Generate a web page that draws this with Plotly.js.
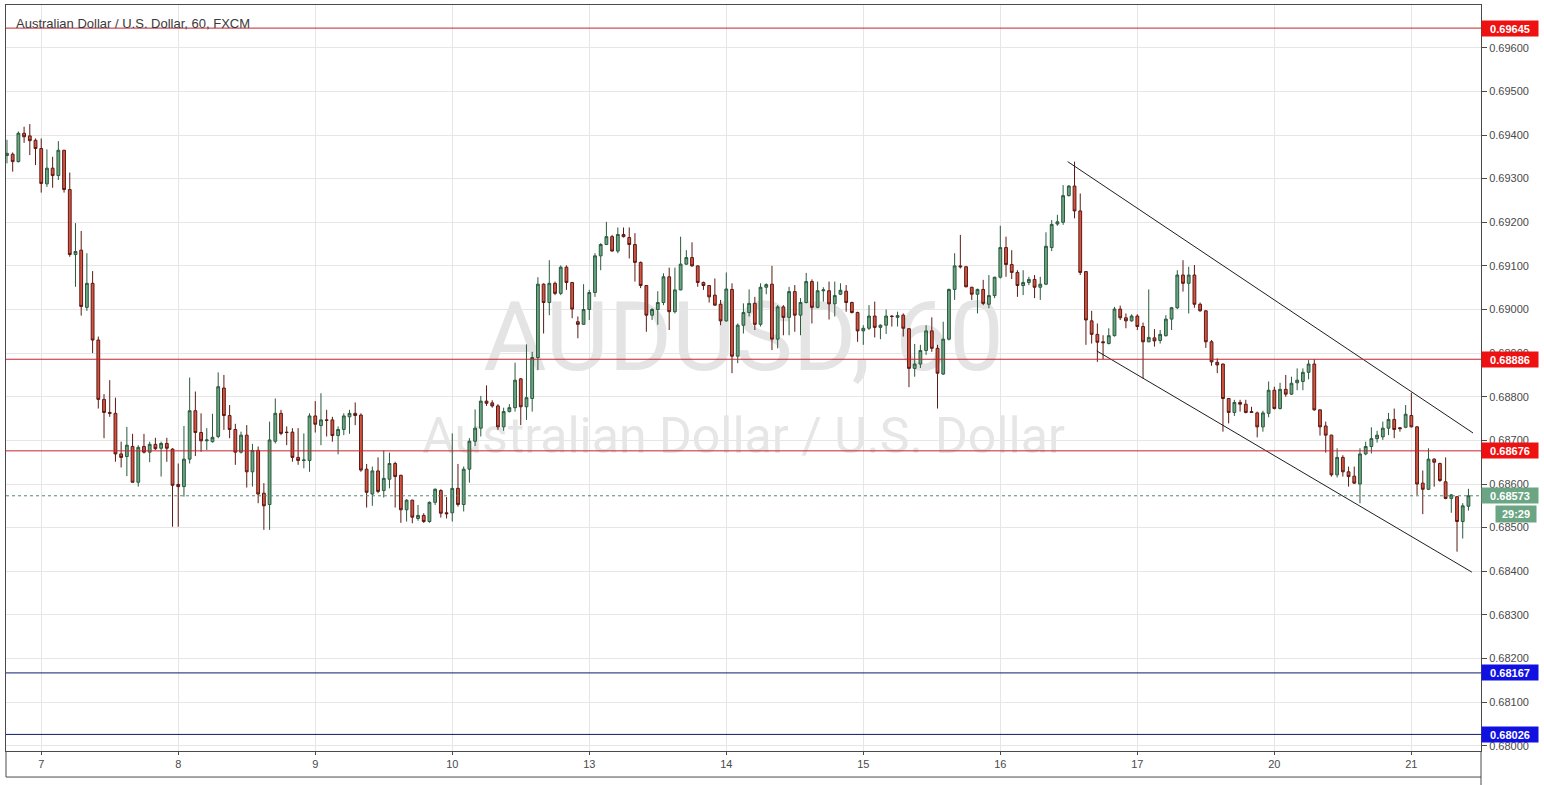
<!DOCTYPE html>
<html><head><meta charset="utf-8">
<script src="https://cdn.plot.ly/plotly-3.0.1.min.js"></script>
<style>html,body{margin:0;padding:0;background:#fff}#chart{width:1544px;height:785px}</style>
</head><body><div id="chart"></div>
<script>
// ---- data (AUD/USD hourly candles, 6 Jan 18:00 -> 21 Jan 10:00) ----
const dayTickIdx = [6,30,54,78,102,126,150,174,198,222,246];
const dayLabels = ['7','8','9','10','13','14','15','16','17','20','21'];

const open = [
0.69353,0.69356,0.69339,0.69404,0.69398,0.69388,0.69369,0.69288,0.69324,0.69307,
0.69365,0.69275,0.69126,0.69136,0.69005,0.69060,0.68930,0.68794,0.68764,0.68762,
0.68669,0.68663,0.68686,0.68604,0.68686,0.68673,0.68691,0.68682,0.68693,0.68680,
0.68599,0.68594,0.68657,0.68768,0.68718,0.68699,0.68697,0.68709,0.68820,0.68757,
0.68725,0.68673,0.68712,0.68628,0.68677,0.68579,0.68553,0.68698,0.68762,0.68719,
0.68719,0.68661,0.68654,0.68654,0.68756,0.68734,0.68747,0.68747,0.68711,0.68725,
0.68754,0.68762,0.68758,0.68634,0.68577,0.68630,0.68585,0.68611,0.68647,0.68620,
0.68541,0.68563,0.68521,0.68528,0.68514,0.68558,0.68585,0.68534,0.68534,0.68590,
0.68553,0.68634,0.68698,0.68728,0.68790,0.68786,0.68779,0.68731,0.68766,0.68775,
0.68841,0.68777,0.68796,0.68890,0.69058,0.69016,0.69060,0.69037,0.69097,0.69062,
0.68972,0.68966,0.69000,0.69039,0.69123,0.69149,0.69167,0.69134,0.69172,0.69165,
0.69149,0.69108,0.69055,0.68987,0.69000,0.69016,0.69075,0.68995,0.69045,0.69104,
0.69119,0.69100,0.69062,0.69055,0.69033,0.69012,0.68974,0.69046,0.68893,0.68964,
0.68993,0.69014,0.68966,0.69051,0.69058,0.68932,0.69006,0.68982,0.69041,0.68987,
0.69016,0.69064,0.69005,0.69043,0.69043,0.69013,0.69035,0.69042,0.69016,0.68993,
0.68951,0.68957,0.68985,0.68959,0.68964,0.68985,0.68982,0.68987,0.68956,0.68865,
0.68875,0.68906,0.68951,0.68911,0.68852,0.68932,0.69046,0.69100,0.69098,0.69051,
0.69035,0.69046,0.69012,0.69032,0.69074,0.69142,0.69103,0.69085,0.69055,0.69062,
0.69069,0.69051,0.69058,0.69142,0.69196,0.69200,0.69261,0.69283,0.69226,0.69087,
0.68974,0.68943,0.68926,0.68922,0.68940,0.69001,0.68981,0.68974,0.68985,0.68961,
0.68926,0.68935,0.68929,0.68940,0.68978,0.69004,0.69079,0.69060,0.69079,0.69012,
0.68997,0.68926,0.68879,0.68875,0.68796,0.68764,0.68787,0.68783,0.68766,0.68763,
0.68731,0.68762,0.68815,0.68773,0.68817,0.68806,0.68832,0.68835,0.68856,0.68875,
0.68770,0.68733,0.68712,0.68621,0.68661,0.68628,0.68618,0.68600,0.68669,0.68686,
0.68704,0.68708,0.68728,0.68748,0.68729,0.68730,0.68757,0.68731,0.68602,0.68588,
0.68657,0.68647,0.68605,0.68567,0.68571,0.68514,0.68549];

const high = [
0.69389,0.69360,0.69408,0.69419,0.69425,0.69392,0.69392,0.69367,0.69350,0.69386,
0.69366,0.69314,0.69198,0.69180,0.69129,0.69088,0.68938,0.68806,0.68838,0.68798,
0.68697,0.68731,0.68715,0.68689,0.68715,0.68697,0.68706,0.68697,0.68706,0.68682,
0.68647,0.68733,0.68844,0.68812,0.68762,0.68728,0.68761,0.68856,0.68850,0.68781,
0.68738,0.68720,0.68735,0.68692,0.68686,0.68602,0.68743,0.68796,0.68770,0.68732,
0.68728,0.68728,0.68716,0.68762,0.68790,0.68808,0.68770,0.68754,0.68732,0.68762,
0.68770,0.68787,0.68762,0.68646,0.68640,0.68661,0.68677,0.68672,0.68651,0.68621,
0.68565,0.68564,0.68552,0.68533,0.68560,0.68590,0.68588,0.68570,0.68716,0.68646,
0.68640,0.68705,0.68771,0.68802,0.68826,0.68792,0.68783,0.68775,0.68783,0.68878,
0.68843,0.68920,0.68903,0.69074,0.69060,0.69113,0.69064,0.69101,0.69101,0.69063,
0.68984,0.69058,0.69045,0.69129,0.69152,0.69201,0.69171,0.69188,0.69188,0.69188,
0.69175,0.69110,0.69056,0.69003,0.69042,0.69083,0.69096,0.69096,0.69167,0.69136,
0.69154,0.69101,0.69064,0.69056,0.69071,0.69022,0.69085,0.69060,0.68968,0.69014,
0.69046,0.69029,0.69060,0.69060,0.69100,0.69010,0.69010,0.69052,0.69056,0.69026,
0.69084,0.69069,0.69064,0.69051,0.69064,0.69064,0.69060,0.69056,0.69018,0.68995,
0.68964,0.69010,0.69018,0.68966,0.69000,0.68987,0.68995,0.68991,0.68957,0.68921,
0.68919,0.68964,0.68982,0.68919,0.68972,0.69048,0.69129,0.69171,0.69100,0.69052,
0.69048,0.69068,0.69079,0.69075,0.69192,0.69167,0.69136,0.69090,0.69090,0.69075,
0.69079,0.69075,0.69177,0.69205,0.69217,0.69285,0.69285,0.69339,0.69266,0.69087,
0.68997,0.68968,0.68941,0.68957,0.69006,0.69009,0.68991,0.68989,0.68989,0.68970,
0.69046,0.68955,0.68953,0.68987,0.69006,0.69090,0.69113,0.69098,0.69102,0.69016,
0.68999,0.68930,0.68888,0.68876,0.68797,0.68793,0.68793,0.68793,0.68777,0.68766,
0.68768,0.68835,0.68823,0.68832,0.68850,0.68846,0.68865,0.68865,0.68884,0.68886,
0.68771,0.68743,0.68713,0.68682,0.68666,0.68640,0.68640,0.68682,0.68697,0.68730,
0.68722,0.68743,0.68763,0.68773,0.68730,0.68781,0.68809,0.68733,0.68631,0.68682,
0.68659,0.68649,0.68661,0.68577,0.68571,0.68556,0.68589];

const low = [
0.69335,0.69316,0.69337,0.69382,0.69354,0.69331,0.69268,0.69281,0.69279,0.69297,
0.69268,0.69121,0.69052,0.68986,0.68997,0.68900,0.68773,0.68705,0.68754,0.68651,
0.68638,0.68618,0.68604,0.68594,0.68670,0.68650,0.68678,0.68617,0.68651,0.68502,
0.68502,0.68571,0.68647,0.68664,0.68674,0.68678,0.68695,0.68705,0.68724,0.68705,
0.68644,0.68670,0.68592,0.68594,0.68556,0.68495,0.68495,0.68693,0.68712,0.68689,
0.68651,0.68644,0.68636,0.68628,0.68718,0.68689,0.68709,0.68697,0.68668,0.68712,
0.68715,0.68735,0.68628,0.68546,0.68550,0.68579,0.68569,0.68590,0.68546,0.68511,
0.68514,0.68510,0.68516,0.68511,0.68511,0.68552,0.68523,0.68521,0.68514,0.68548,
0.68537,0.68603,0.68687,0.68709,0.68779,0.68775,0.68724,0.68722,0.68764,0.68766,
0.68735,0.68747,0.68766,0.68861,0.68945,0.68987,0.69033,0.69033,0.69045,0.68980,
0.68934,0.68965,0.68976,0.69029,0.69090,0.69148,0.69133,0.69129,0.69165,0.69117,
0.69064,0.69049,0.68949,0.68976,0.68965,0.69010,0.68953,0.68991,0.69044,0.69102,
0.69098,0.69052,0.69045,0.69016,0.69009,0.68964,0.68972,0.68854,0.68877,0.68945,
0.68984,0.68953,0.68961,0.69035,0.68907,0.68911,0.68941,0.68941,0.68949,0.68941,
0.69014,0.68968,0.69003,0.69018,0.68977,0.68984,0.69033,0.68995,0.68991,0.68926,
0.68919,0.68953,0.68936,0.68932,0.68944,0.68961,0.68961,0.68938,0.68822,0.68846,
0.68866,0.68896,0.68903,0.68773,0.68850,0.68929,0.69022,0.69094,0.69051,0.69022,
0.68991,0.69010,0.69003,0.69026,0.69071,0.69075,0.69070,0.69029,0.69033,0.69056,
0.69026,0.69022,0.69056,0.69134,0.69192,0.69194,0.69259,0.69209,0.69079,0.68919,
0.68922,0.68880,0.68886,0.68920,0.68938,0.68976,0.68957,0.68972,0.68953,0.68842,
0.68925,0.68915,0.68922,0.68938,0.68953,0.69001,0.69041,0.68991,0.69004,0.68995,
0.68912,0.68871,0.68854,0.68720,0.68739,0.68756,0.68766,0.68762,0.68763,0.68707,
0.68720,0.68753,0.68771,0.68771,0.68800,0.68804,0.68815,0.68815,0.68840,0.68768,
0.68711,0.68672,0.68617,0.68615,0.68617,0.68594,0.68600,0.68556,0.68666,0.68670,
0.68695,0.68701,0.68712,0.68705,0.68720,0.68728,0.68730,0.68575,0.68531,0.68586,
0.68594,0.68605,0.68565,0.68534,0.68445,0.68475,0.68539];

const close = [
0.69358,0.69339,0.69404,0.69396,0.69387,0.69369,0.69289,0.69324,0.69307,0.69365,
0.69275,0.69126,0.69133,0.69007,0.69060,0.68930,0.68794,0.68764,0.68762,0.68669,
0.68661,0.68689,0.68604,0.68684,0.68673,0.68691,0.68681,0.68693,0.68682,0.68597,
0.68594,0.68657,0.68768,0.68718,0.68699,0.68701,0.68707,0.68823,0.68757,0.68725,
0.68673,0.68712,0.68628,0.68677,0.68577,0.68550,0.68701,0.68762,0.68716,0.68718,
0.68661,0.68654,0.68655,0.68756,0.68737,0.68747,0.68746,0.68711,0.68725,0.68756,
0.68762,0.68757,0.68632,0.68581,0.68630,0.68583,0.68613,0.68647,0.68617,0.68541,
0.68563,0.68524,0.68528,0.68514,0.68558,0.68588,0.68533,0.68532,0.68590,0.68553,
0.68634,0.68698,0.68728,0.68790,0.68785,0.68779,0.68731,0.68766,0.68775,0.68838,
0.68777,0.68798,0.68890,0.69058,0.69016,0.69060,0.69037,0.69097,0.69062,0.69001,
0.68966,0.69000,0.69039,0.69123,0.69149,0.69167,0.69134,0.69172,0.69167,0.69149,
0.69108,0.69055,0.68987,0.69000,0.69016,0.69075,0.68995,0.69045,0.69104,0.69119,
0.69100,0.69062,0.69055,0.69029,0.69010,0.68974,0.69047,0.68893,0.68964,0.68993,
0.69014,0.68966,0.69051,0.69057,0.68932,0.69006,0.68982,0.69041,0.68987,0.69016,
0.69064,0.69005,0.69043,0.69045,0.69013,0.69032,0.69044,0.69016,0.68993,0.68951,
0.68957,0.68985,0.68959,0.68964,0.68985,0.68984,0.68986,0.68957,0.68865,0.68875,
0.68906,0.68951,0.68911,0.68854,0.68932,0.69046,0.69100,0.69098,0.69052,0.69035,
0.69046,0.69014,0.69032,0.69074,0.69142,0.69103,0.69085,0.69055,0.69062,0.69069,
0.69051,0.69058,0.69145,0.69195,0.69201,0.69261,0.69283,0.69226,0.69085,0.68976,
0.68943,0.68925,0.68924,0.68940,0.69001,0.68981,0.68974,0.68985,0.68961,0.68926,
0.68936,0.68928,0.68943,0.68978,0.69004,0.69079,0.69060,0.69079,0.69012,0.68997,
0.68926,0.68880,0.68873,0.68796,0.68764,0.68787,0.68783,0.68764,0.68764,0.68731,
0.68763,0.68815,0.68773,0.68817,0.68806,0.68831,0.68838,0.68856,0.68875,0.68770,
0.68731,0.68712,0.68621,0.68661,0.68628,0.68617,0.68602,0.68669,0.68686,0.68704,
0.68712,0.68728,0.68748,0.68725,0.68727,0.68760,0.68731,0.68600,0.68588,0.68657,
0.68650,0.68608,0.68567,0.68575,0.68514,0.68550,0.68573];

// horizontal levels drawn on the chart
const resistanceLevels = [0.69645, 0.68886, 0.68676];
const supportLevels = [0.68167, 0.68026];
const lastPrice = 0.68573;
const countdownText = '29:29';

// channel trendlines (bar index, price)
const upperTrendX = [185.8, 256.8];
const upperTrendY = [0.69339, 0.68717];
const lowerTrendX = [190.9, 256.6];
const lowerTrendY = [0.68905, 0.68398];

const chartTitle = 'Australian Dollar / U.S. Dollar, 60, FXCM';
const watermarkSymbol = 'AUDUSD, 60';
const watermarkName = 'Australian Dollar / U.S. Dollar';

// ---- drawing ----
const idx = open.map((_, i) => i);
const FONT = 'Liberation Sans, Arial, sans-serif';

const traces = [
  {type:'candlestick', x: idx, open: open, high: high, low: low, close: close,
   increasing:{line:{color:'#2b5a3d', width:1}, fillcolor:'#6ba583'},
   decreasing:{line:{color:'#5b1a13', width:1}, fillcolor:'#d75442'},
   whiskerwidth:0, hoverinfo:'skip', showlegend:false},
  {type:'scatter', mode:'lines', x: upperTrendX, y: upperTrendY,
   line:{color:'#1e1e1e', width:1}, hoverinfo:'skip', showlegend:false},
  {type:'scatter', mode:'lines', x: lowerTrendX, y: lowerTrendY,
   line:{color:'#1e1e1e', width:1}, hoverinfo:'skip', showlegend:false}
];

const shapes = [
  {type:'rect', xref:'paper', yref:'paper', x0:0.15, x1:0.85, y0:0.50, y1:0.63,
   line:{width:0}, fillcolor:'rgba(0,0,0,0)', layer:'below',
   label:{text: watermarkSymbol, textposition:'middle center',
          font:{family:'Roboto, sans-serif', size:97, color:'#e4e4e4'}}},
  {type:'rect', xref:'paper', yref:'paper', x0:0.15, x1:0.85, y0:0.385, y1:0.47,
   line:{width:0}, fillcolor:'rgba(0,0,0,0)', layer:'below',
   label:{text: watermarkName, textposition:'middle center',
          font:{family:'Roboto, sans-serif', size:50, color:'#e6e6e6'}}},
  // frame around the date-axis strip
  {type:'line', xref:'paper', yref:'paper', x0:0, x1:1, y0:-0.0349, y1:-0.0349,
   line:{color:'#4a4a4a', width:1}},
  {type:'line', xref:'paper', yref:'paper', x0:0, x1:0, y0:-0.0349, y1:0,
   line:{color:'#4a4a4a', width:1}},
  {type:'line', xref:'paper', yref:'paper', x0:1, x1:1, y0:-0.046, y1:0,
   line:{color:'#4a4a4a', width:1}}
];
const annotations = [];

function addLevel(p, lineColor, boxColor) {
  shapes.push({type:'line', xref:'paper', x0:0, x1:1, yref:'y', y0:p, y1:p,
               line:{color: lineColor, width:1}, layer:'above'});
  annotations.push({xref:'paper', x:1, xanchor:'left', yref:'y', y:p, yanchor:'middle',
    text: p.toFixed(5), showarrow:false, bgcolor: boxColor, borderpad:1,
    width:54, height:13, align:'center',
    font:{family: FONT, size:11, color:'#ffffff', weight:'bold'}});
}
resistanceLevels.forEach(p => addLevel(p, '#c8232c', '#ee1111'));
supportLevels.forEach(p => addLevel(p, '#101a6e', '#1010e0'));

// last price line + countdown
shapes.push({type:'line', xref:'paper', x0:0, x1:1, yref:'y', y0:lastPrice, y1:lastPrice,
             line:{color:'#4f8a68', width:1, dash:'dot'}, layer:'above'});
annotations.push({xref:'paper', x:1, xanchor:'left', yref:'y', y:lastPrice, yanchor:'middle',
  text: lastPrice.toFixed(5), showarrow:false, bgcolor:'#6ba583', borderpad:1,
  width:54, height:13, align:'center',
  font:{family: FONT, size:11, color:'#ffffff', weight:'bold'}});
annotations.push({xref:'paper', x:1, xanchor:'right', xshift:56, yref:'y', y:lastPrice,
  yanchor:'top', yshift:-9, text: countdownText, showarrow:false, bgcolor:'#6ba583',
  borderpad:1, width:38, height:14, align:'center',
  font:{family: FONT, size:11, color:'#ffffff', weight:'bold'}});

// chart title
annotations.push({xref:'paper', x:0, xanchor:'left', xshift:8, yref:'paper', y:1,
  yanchor:'middle', yshift:-18, text: chartTitle, showarrow:false,
  font:{family: FONT, size:13, color:'#3a3a3a'}});

const layout = {
  width:1544, height:785,
  margin:{l:6, r:63, t:5, b:34},
  paper_bgcolor:'#ffffff', plot_bgcolor:'#ffffff',
  showlegend:false,
  font:{family: FONT, size:11, color:'#4a4a4a'},
  xaxis:{type:'linear', range:[-0.17, 258.2], tickmode:'array',
    tickvals: dayTickIdx, ticktext: dayLabels,
    showgrid:true, gridcolor:'#e6e6e6', gridwidth:1, zeroline:false,
    showline:true, linecolor:'#4a4a4a', linewidth:1, mirror:true,
    ticks:'outside', ticklen:3, tickcolor:'#4a4a4a',
    tickfont:{size:11, color:'#4a4a4a'},
    rangeslider:{visible:false}, fixedrange:true},
  yaxis:{side:'right', range:[0.67988, 0.69698], tick0:0.68, dtick:0.001,
    tickformat:'.5f', showgrid:true, gridcolor:'#e6e6e6', gridwidth:1, zeroline:false,
    showline:true, linecolor:'#4a4a4a', linewidth:1, mirror:true,
    ticks:'outside', ticklen:5, tickcolor:'#4a4a4a',
    tickfont:{size:11, color:'#4a4a4a'}, fixedrange:true},
  shapes: shapes,
  annotations: annotations
};

Plotly.newPlot('chart', traces, layout, {displayModeBar:false, staticPlot:true});
</script>
</body></html>
